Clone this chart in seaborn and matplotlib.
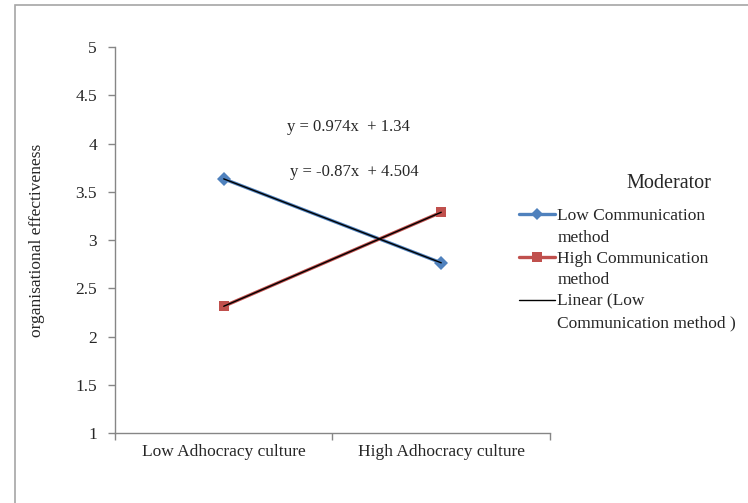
import pandas as pd
import seaborn as sns
import matplotlib.pyplot as plt
from matplotlib.lines import Line2D
from matplotlib.patches import Rectangle

# data
categories = ["Low Adhocracy culture", "High Adhocracy culture"]
low_comm = [3.634, 2.764]
high_comm = [2.314, 3.288]
eq_low = "y = -0.87x  + 4.504"
eq_high = "y = 0.974x  + 1.34"

sns.set_style("white")
plt.rcParams['font.family'] = ['Liberation Serif', 'DejaVu Serif']

df = pd.DataFrame({
    "x": [0, 1, 0, 1],
    "y": low_comm + high_comm,
    "group": ["Low Communication method"] * 2 + ["High Communication method"] * 2,
})

fig = plt.figure(figsize=(7.48, 5.03), dpi=100)
ax = fig.add_axes([0.1537, 0.139, 0.5816, 0.7675])

# outer chart frame
fig.patches.append(Rectangle((15 / 748, -0.1), 1.1, 1.1 - 5 / 503, transform=fig.transFigure,
                             fill=False, edgecolor="#a6a6a6", linewidth=1.2))

blue = "#4F81BD"
red = "#C0504D"
sns.lineplot(data=df, x="x", y="y", hue="group", style="group",
             palette=[blue, red], markers=["D", "s"], dashes=False,
             markersize=7, linewidth=2.4, markeredgewidth=0, legend=False, ax=ax)

# linear trendlines
for vals in [low_comm, high_comm]:
    sns.regplot(x=[0, 1], y=vals, scatter=False, ci=None, truncate=True,
                line_kws={"color": "black", "linewidth": 1.0}, ax=ax)

ax.text(0.573, 4.17, eq_high, fontsize=12, ha="center", va="center")
ax.text(0.6, 3.705, eq_low, fontsize=12, ha="center", va="center")

ax.set_xlim(-0.5, 1.5)
ax.set_ylim(1, 5)
ax.set_yticks([1, 1.5, 2, 2.5, 3, 3.5, 4, 4.5, 5])
ax.set_yticklabels(["1", "1.5", "2", "2.5", "3", "3.5", "4", "4.5", "5"])
ax.set_xticks([-0.5, 0.5, 1.5], minor=False)
ax.set_xticklabels([])
ax.set_xticks([0, 1], minor=True)
ax.set_xticklabels(categories, minor=True)
ax.tick_params(axis="x", which="minor", bottom=False, length=0, pad=8, labelsize=12.5)
ax.tick_params(axis="x", which="major", bottom=True, length=5, color="#868686", width=1)
ax.tick_params(axis="y", left=True, length=5, color="#868686", width=1, labelsize=12.5, pad=8)
ax.set_xlabel("")
ax.set_ylabel("organisational effectiveness", fontsize=12.5)
ax.yaxis.set_label_coords(-0.16, 0.5)

for side in ["top", "right"]:
    ax.spines[side].set_visible(False)
for side in ["left", "bottom"]:
    ax.spines[side].set_color("#868686")
    ax.spines[side].set_linewidth(1)

# legend: one row per text line, handle on the first line of each entry
blank = Line2D([], [], color="none")
handles = [
    Line2D([], [], color=blue, marker="D", markersize=6, linewidth=2.4, markeredgewidth=0),
    blank,
    Line2D([], [], color=red, marker="s", markersize=7, linewidth=2.4, markeredgewidth=0),
    blank,
    Line2D([], [], color="black", linewidth=1.0),
    blank,
]
labels = ["Low Communication", "method", "High Communication", "method",
          "Linear (Low", "Communication method )"]
fig.text(669 / 748, 1 - 183 / 503, "Moderator", fontsize=14.5, ha="center", va="center")
leg = fig.legend(handles, labels, loc="upper left", bbox_to_anchor=(519 / 748, 1 - 208 / 503),
                 frameon=False, fontsize=12.5, handlelength=2.1, handletextpad=0.1,
                 labelspacing=0.3, borderpad=0, borderaxespad=0)

fig.savefig("out.png", dpi=100)
